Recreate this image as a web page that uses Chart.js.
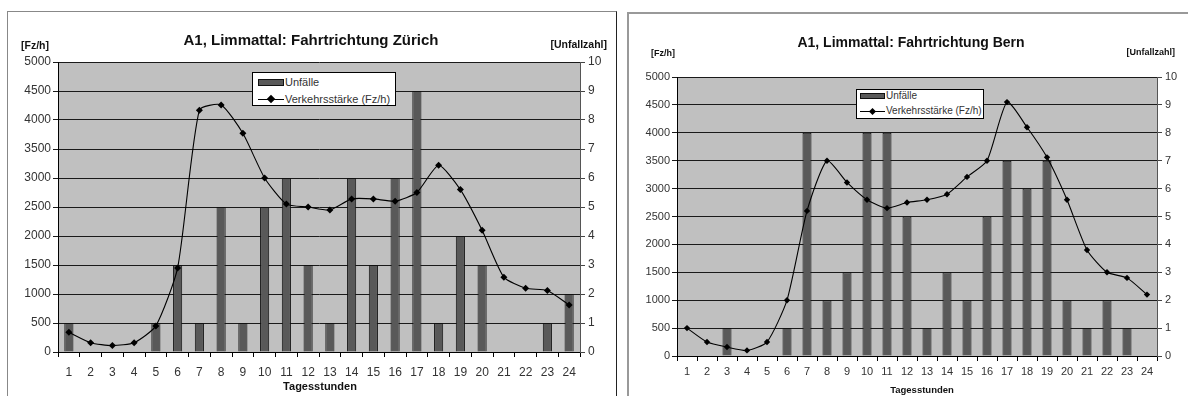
<!DOCTYPE html>
<html>
<head>
<meta charset="utf-8">
<script src="https://cdn.jsdelivr.net/npm/chart.js@4.4.1/dist/chart.umd.min.js"></script>
<style>
  html, body { margin:0; padding:0; background:#fff; }
  body { width:1188px; height:396px; overflow:hidden; position:relative; font-family:'Liberation Sans', Arial, sans-serif; }
  .box { position:absolute; background:#fff; }
  #boxL { left:7px; top:11px; width:608px; height:420px; border:1px solid #888; border-right:1px solid #222; }
  #boxR { left:627px; top:12px; width:600px; height:420px; border:2px solid #999; }
  canvas { position:absolute; top:0; }
  .legend { position:absolute; background:#fff; border:1px solid #000; box-sizing:border-box; color:#333; }
  .legend .sw { position:absolute; background:#595959; border:1px solid #111; box-sizing:border-box; }
  .legend .ln { position:absolute; height:1px; background:#000; }
  .legend .dm { position:absolute; background:#000; transform:rotate(45deg); }
  .legend .tx { position:absolute; white-space:nowrap; line-height:1; }
</style>
</head>
<body>
<div class="box" id="boxL"></div>
<div class="box" id="boxR"></div>
<canvas id="cL" width="620" height="396" style="left:0;width:620px;height:396px"></canvas>
<canvas id="cR" width="568" height="396" style="left:620px;width:568px;height:396px"></canvas>

<div class="legend" style="left:252px;top:72px;width:144px;height:34px;">
  <div class="sw" style="left:5px;top:6px;width:26px;height:7px;"></div>
  <div class="tx" style="left:32px;top:4px;font-size:11px;" id="lgL1"></div>
  <div class="ln" style="left:5px;top:26px;width:26px;"></div>
  <div class="dm" style="left:15px;top:23px;width:6px;height:6px;"></div>
  <div class="tx" style="left:32px;top:21px;font-size:11px;" id="lgL2"></div>
</div>
<div class="legend" style="left:856px;top:89px;width:128px;height:30px;">
  <div class="sw" style="left:3px;top:3px;width:25px;height:6px;"></div>
  <div class="tx" style="left:29px;top:1px;font-size:10px;" id="lgR1"></div>
  <div class="ln" style="left:3px;top:21px;width:25px;"></div>
  <div class="dm" style="left:13px;top:19px;width:5px;height:5px;"></div>
  <div class="tx" style="left:29px;top:16px;font-size:10px;" id="lgR2"></div>
</div>

<script>
// ---------- data ----------
const hours = ['1','2','3','4','5','6','7','8','9','10','11','12','13','14','15','16','17','18','19','20','21','22','23','24'];

const seriesBars = 'Unfälle';
const seriesLine = 'Verkehrsstärke (Fz/h)';

// Fahrtrichtung Zürich
const unfaelleZuerich = [1,0,0,0,1,3,1,5,1,5,6,3,1,6,3,6,9,1,4,3,0,0,1,2];
const verkehrZuerich  = [340,160,110,160,450,1450,4170,4260,3770,3000,2550,2500,2450,2640,2640,2600,2750,3220,2800,2100,1290,1100,1060,810];

// Fahrtrichtung Bern
const unfaelleBern = [0,0,1,0,0,1,8,2,3,8,8,5,1,3,2,5,7,6,7,2,1,2,1,0];
const verkehrBern  = [500,250,160,100,250,1000,2600,3500,3110,2800,2650,2750,2800,2900,3210,3500,4550,4100,3560,2800,1900,1500,1400,1100];

const titleZuerich = 'A1, Limmattal: Fahrtrichtung Zürich';
const titleBern    = 'A1, Limmattal: Fahrtrichtung Bern';
const unitLeft  = '[Fz/h]';
const unitRight = '[Unfallzahl]';
const xTitle    = 'Tagesstunden';

document.getElementById('lgL1').textContent = seriesBars;
document.getElementById('lgL2').textContent = seriesLine;
document.getElementById('lgR1').textContent = seriesBars;
document.getElementById('lgR2').textContent = seriesLine;

const FONT = "'Liberation Sans', Arial, sans-serif";

const plotBg = {
  id: 'plotBg',
  beforeDraw(chart) {
    const {ctx, chartArea:a} = chart;
    ctx.save();
    ctx.fillStyle = '#c0c0c0';
    ctx.fillRect(a.left, a.top, a.right - a.left, a.bottom - a.top);
    ctx.restore();
  }
};

const deco = {
  id: 'deco',
  afterDraw(chart, args, o) {
    const ctx = chart.ctx;
    ctx.save();
    ctx.fillStyle = '#111';
    ctx.textBaseline = 'middle';
    ctx.font = 'bold ' + o.titleSize + 'px ' + FONT;
    ctx.textAlign = 'center';
    ctx.fillText(o.title, o.titleX, o.titleY);
    ctx.font = 'bold ' + o.unitSize + 'px ' + FONT;
    ctx.textAlign = 'left';
    ctx.fillText(unitLeft, o.ulX, o.ulY);
    ctx.textAlign = 'right';
    ctx.fillText(unitRight, o.urX, o.urY);
    ctx.font = 'bold ' + o.xtSize + 'px ' + FONT;
    ctx.textAlign = 'center';
    ctx.fillText(xTitle, o.xtX, o.xtY);
    ctx.restore();
  }
};

const plain = v => String(v);

function makeChart(id, bars, line, g) {
  return new Chart(document.getElementById(id), {
    data: {
      labels: hours,
      datasets: [
        {
          type: 'line', label: seriesLine, data: line, yAxisID: 'y', order: 0,
          borderColor: '#000', borderWidth: 1.1, tension: 0.2,
          pointStyle: 'rectRot', pointRadius: g.pr, pointBackgroundColor: '#000', pointBorderColor: '#000', pointBorderWidth: 0
        },
        {
          type: 'bar', label: seriesBars, data: bars, yAxisID: 'y1', order: 1,
          backgroundColor: '#595959', borderColor: '#111', borderWidth: 1,
          categoryPercentage: 1, barPercentage: g.bp
        }
      ]
    },
    options: {
      responsive: false, animation: false, devicePixelRatio: 1,
      layout: { padding: g.pad },
      plugins: {
        legend: { display: false }, tooltip: { enabled: false }, title: { display: false },
        deco: g.deco
      },
      scales: {
        x: {
          offset: true,
          grid: { offset: true, drawOnChartArea: false, drawTicks: true, tickLength: 5, color: '#000', lineWidth: 1 },
          border: { display: true, color: '#000', width: 1 },
          ticks: { color: '#333', font: { family: FONT, size: g.fs }, padding: g.xpad, maxRotation: 0, autoSkip: false },
          afterFit: s => { s.height = g.xh; }
        },
        y: {
          position: 'left', min: 0, max: 5000, z: 1,
          grid: { color: '#1a1a1a', lineWidth: 1, drawTicks: true, tickLength: 5 },
          border: { display: true, color: '#000', width: 1 },
          ticks: { stepSize: 500, color: '#333', font: { family: FONT, size: g.fs }, padding: 2, callback: plain },
          afterFit: s => { s.width = g.yw; }
        },
        y1: {
          position: 'right', min: 0, max: 10,
          grid: { drawOnChartArea: false, drawTicks: true, tickLength: 5, color: '#444' },
          border: { display: true, color: '#555', width: 1 },
          ticks: { stepSize: 1, color: '#333', font: { family: FONT, size: g.fs }, padding: 3, callback: plain },
          afterFit: s => { s.width = g.y1w; }
        }
      }
    },
    plugins: [plotBg, deco]
  });
}

makeChart('cL', unfaelleZuerich, verkehrZuerich, {
  pad: { left: 8, right: 10, top: 62, bottom: 0 },
  yw: 50, y1w: 30, xh: 44, fs: 12, xpad: 8, bp: 0.42, pr: 3.5,
  deco: { title: titleZuerich, titleSize: 15, titleX: 311, titleY: 41,
          unitSize: 10.5, ulX: 21, ulY: 46, urX: 607, urY: 45,
          xtSize: 11, xtX: 320, xtY: 387 }
});

makeChart('cR', unfaelleBern, verkehrBern, {
  pad: { left: 7, right: 6, top: 77, bottom: 0 },
  yw: 50, y1w: 25, xh: 40, fs: 11, xpad: 4, bp: 0.45, pr: 3.2,
  deco: { title: titleBern, titleSize: 14, titleX: 291, titleY: 43,
          unitSize: 9, ulX: 31, ulY: 54, urX: 555, urY: 53,
          xtSize: 9.5, xtX: 302, xtY: 390 }
});
</script>
</body>
</html>
